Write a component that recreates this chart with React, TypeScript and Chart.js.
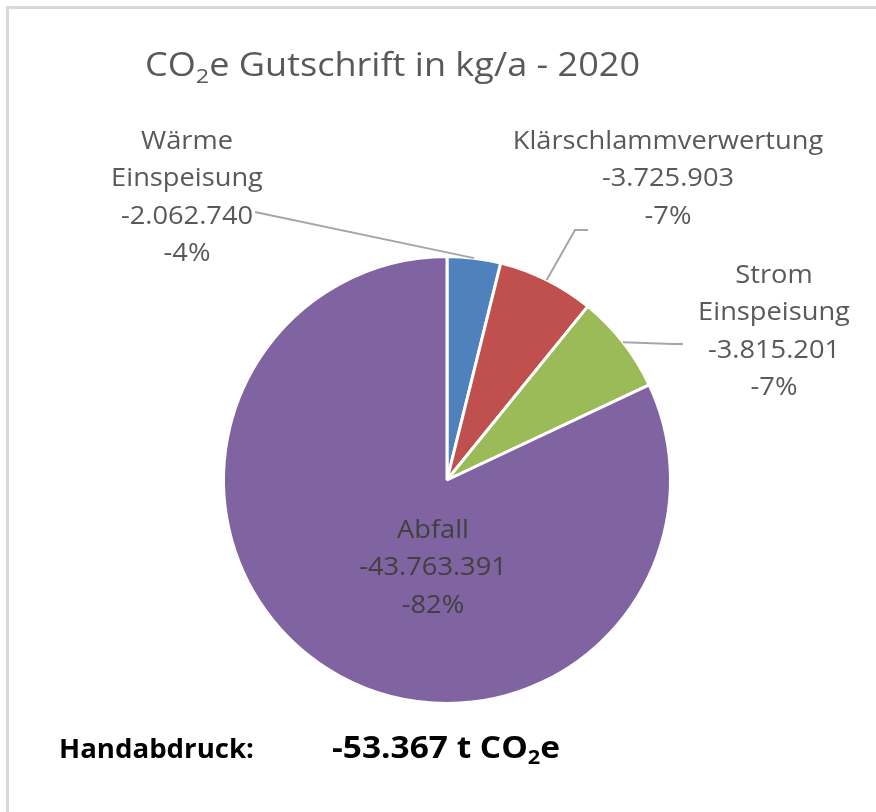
import React, { useEffect, useRef } from "react";
import { Chart, registerables } from "chart.js";

Chart.register(...registerables);

const categories = ["Wärme Einspeisung", "Klärschlammverwertung", "Strom Einspeisung", "Abfall"];
const labelLines = [["Wärme", "Einspeisung"], ["Klärschlammverwertung"], ["Strom", "Einspeisung"], ["Abfall"]];
const values = [-2062740, -3725903, -3815201, -43763391];
const colors = ["#4F81BD", "#C0504D", "#9BBB59", "#8064A2"];
const titleYear = "2020";

const FONT = "'Open Sans', 'DejaVu Sans', sans-serif";

// label layout offsets relative to pie centre (px)
const labelLayout = [
  { tx: -260, ty: -338, leader: [[-192, -268]] },
  { tx: 221, ty: -338, leader: [[128, -250], [141, -250]] },
  { tx: 327, ty: -204, leader: [[226, -136], [236, -136]] },
  { tx: -14, ty: 51, leader: null },
];

function fmtDE(n: number): string {
  const s = Math.abs(Math.round(n)).toString().replace(/\B(?=(\d{3})+(?!\d))/g, ".");
  return (n < 0 ? "-" : "") + s;
}

type Part = { t: string; sub?: boolean };

function drawRich(ctx: CanvasRenderingContext2D, parts: Part[], x: number, y: number, size: number, weight: string, color: string, targetWidth?: number) {
  ctx.save();
  ctx.fillStyle = color;
  ctx.textBaseline = "middle";
  ctx.textAlign = "left";
  let w = 0;
  for (const p of parts) {
    ctx.font = `${weight} ${p.sub ? size * 0.65 : size}px ${FONT}`;
    w += ctx.measureText(p.t).width;
  }
  const sx = targetWidth ? targetWidth / w : 1;
  ctx.translate(x, 0);
  ctx.scale(sx, 1);
  let cx = 0;
  for (const p of parts) {
    const s = p.sub ? size * 0.65 : size;
    ctx.font = `${weight} ${s}px ${FONT}`;
    ctx.fillText(p.t, cx, p.sub ? y + size * 0.3 : y);
    cx += ctx.measureText(p.t).width;
  }
  ctx.restore();
}

const overlayPlugin = {
  id: "overlay",
  beforeDraw(chart: any) {
    const ctx = chart.ctx as CanvasRenderingContext2D;
    ctx.save();
    ctx.fillStyle = "#ffffff";
    ctx.fillRect(0, 0, chart.width, chart.height);
    ctx.fillStyle = "#d9d9d9";
    ctx.fillRect(6, 6, chart.width - 6, 3);
    ctx.fillRect(6, 6, 3, chart.height - 6);
    ctx.restore();
  },
  afterDraw(chart: any) {
    const ctx = chart.ctx as CanvasRenderingContext2D;
    const meta = chart.getDatasetMeta(0);
    const total = values.reduce((a, b) => a + Math.abs(b), 0);
    const sign = values[0] < 0 ? "-" : "";

    // title
    drawRich(ctx, [{ t: "CO" }, { t: "2", sub: true }, { t: `e Gutschrift in kg/a - ${titleYear}` }], 145, 67, 32, "normal", "#595959", 495);

    meta.data.forEach((arc: any, i: number) => {
      const { x: cx, y: cy, startAngle, endAngle, outerRadius } = arc.getProps(["x", "y", "startAngle", "endAngle", "outerRadius"], true);
      const mid = (startAngle + endAngle) / 2;
      const ex = cx + Math.cos(mid) * outerRadius;
      const ey = cy + Math.sin(mid) * outerRadius;
      const lay = labelLayout[i];
      if (lay.leader) {
        ctx.save();
        ctx.strokeStyle = "#a6a6a6";
        ctx.lineWidth = 2;
        ctx.beginPath();
        ctx.moveTo(ex, ey);
        lay.leader.forEach((p) => ctx.lineTo(cx + p[0], cy + p[1]));
        ctx.stroke();
        ctx.restore();
      }
      const lines = [...labelLines[i], fmtDE(values[i]), `${sign}${Math.round((Math.abs(values[i]) / total) * 100)}%`];
      ctx.save();
      ctx.font = `normal 25px ${FONT}`;
      ctx.textAlign = "center";
      ctx.textBaseline = "middle";
      ctx.fillStyle = i === 3 ? "#404040" : "#595959";
      const lx = cx + lay.tx;
      ctx.translate(lx, 0);
      ctx.scale(1.09, 1);
      lines.forEach((l, k) => ctx.fillText(l, 0, cy + lay.ty + k * 37.3));
      ctx.restore();
    });

    // footer
    const sumT = values.reduce((a, b) => a + b, 0) / 1000;
    drawRich(ctx, [{ t: "Handabdruck:" }], 59, 750, 27, "bold", "#000000", 195);
    drawRich(ctx, [{ t: `${fmtDE(sumT)} t CO` }, { t: "2", sub: true }, { t: "e" }], 332, 749, 31, "bold", "#000000", 228);
  },
};

export default function App() {
  const ref = useRef<HTMLCanvasElement | null>(null);
  useEffect(() => {
    if (!ref.current) return;
    const chart = new Chart(ref.current, {
      type: "pie",
      data: {
        labels: categories,
        datasets: [
          {
            data: values,
            backgroundColor: colors,
            borderColor: "#ffffff",
            borderWidth: 3,
          },
        ],
      },
      options: {
        animation: false,
        responsive: false,
        maintainAspectRatio: false,
        layout: { padding: { left: 222, right: 204, top: 254, bottom: 106 } },
        plugins: { legend: { display: false }, tooltip: { enabled: false }, title: { display: false } },
      },
      plugins: [overlayPlugin],
    });
    return () => chart.destroy();
  }, []);
  return (
    <div style={{ position: "fixed", left: 0, top: 0, width: 876, height: 812 }}>
      <canvas ref={ref} width={876} height={812} style={{ display: "block", width: 876, height: 812 }} />
    </div>
  );
}
